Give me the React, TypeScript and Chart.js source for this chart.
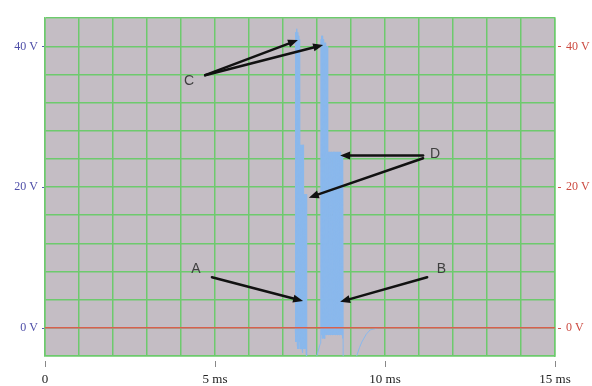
import { useEffect, useRef } from 'react';
import { Chart, registerables } from 'chart.js';

Chart.register(...registerables);

// ---- data (time in ms, voltage in V) ----
const timeMs = [
  0, 7.3, 7.36,
  7.37, 7.38, 7.39, 7.4, 7.41, 7.42, 7.43, 7.44, 7.45, 7.46, 7.47, 7.48, 7.49, 7.5,
  7.51, 7.52, 7.53, 7.54, 7.55, 7.56, 7.57, 7.58, 7.59, 7.6,
  7.61, 7.62, 7.63, 7.64, 7.65, 7.66, 7.67, 7.68, 7.69, 7.7,
  7.75, 7.9, 8.0, 8.05, 8.1, 8.11,
  8.12, 8.13, 8.14, 8.15, 8.16, 8.17, 8.18, 8.19, 8.2, 8.21, 8.22, 8.23, 8.24, 8.25, 8.26, 8.27, 8.28, 8.29, 8.3, 8.31,
  8.32, 8.33, 8.34, 8.35, 8.36, 8.37, 8.38, 8.39, 8.4, 8.41, 8.42, 8.43, 8.44, 8.45, 8.46, 8.47, 8.48, 8.49, 8.5, 8.51,
  8.52, 8.53, 8.54, 8.55, 8.56, 8.57, 8.58, 8.59, 8.6, 8.61, 8.62, 8.63, 8.64, 8.65, 8.66, 8.67, 8.68, 8.69, 8.7, 8.71,
  8.72, 8.73, 8.74, 8.75, 8.76, 8.77,
  9.1, 9.18, 9.25, 9.32, 9.45, 9.56, 9.8, 15,
];
const channelVolts = [
  0, 0, 0,
  42, -2, 42, -2, 42.5, -2.5, 42, -3, 41.5, -3, 41, -2, 41, -3,
  26, -3, 26, -3, 26, -3, 26, -3.5, 26, -3,
  19, -3, 19, -3, 19, -3, 19, -3.5, 19, -4.5,
  -5, -5, -3.9, -3, -2.2, -1,
  41, -1, 41.5, -1.5, 41.5, -1, 41, -1.5, 41, -1, 40.5, -1.5, 40.5, -1, 40, -1, 40, -1, 40, -1,
  25, -1, 25, -1, 25, -1, 25, -1, 25, -1, 25, -1, 25, -1, 25, -1, 25, -1, 25, -1,
  25, -1, 25, -1, 25, -1, 25, -1, 25, -1, 25, -1, 25, -1, 25, -1, 25, -1, 25, -1,
  24.5, -1, 24.5, -1.5, 24.5, -5,
  -5, -3.8, -2.8, -2, -0.9, -0.3, 0, 0,
];
const zeroTime = [0, 15];
const zeroVolts = [0, 0];

const xTickValues = [0, 5, 10, 15];
const xTickLabels = ['0', '5 ms', '10 ms', '15 ms'];
const yTickValues = [0, 20, 40];
const yTickLabels = ['0 V', '20 V', '40 V'];

// callouts (in data units: ms, V)
const calloutLetters = ['A', 'B', 'C', 'D'];
const calloutLetterT = [4.44, 11.66, 4.24, 11.47];
const calloutLetterV = [8.3, 8.3, 35.1, 24.7];
const arrowFromT = [4.91, 11.24, 4.71, 4.71, 11.12, 11.12];
const arrowFromV = [7.2, 7.2, 35.9, 35.9, 24.5, 24.1];
const arrowToT = [7.59, 8.68, 7.44, 8.18, 8.68, 7.76];
const arrowToV = [3.8, 3.7, 40.9, 40.2, 24.5, 18.5];

const tracePoints = timeMs.map((t, i) => ({ x: t, y: channelVolts[i] }));
const zeroPoints = zeroTime.map((t, i) => ({ x: t, y: zeroVolts[i] }));

const gridGreen = '#6dca6d';

const scopePlugin = {
  id: 'scopeDecor',
  beforeDraw(chart: any) {
    const { ctx, chartArea } = chart;
    ctx.save();
    ctx.fillStyle = '#c4bdc4';
    ctx.fillRect(chartArea.left, chartArea.top, chartArea.right - chartArea.left, chartArea.bottom - chartArea.top);
    ctx.restore();
  },
  afterDraw(chart: any) {
    const { ctx, chartArea, scales } = chart;
    const xs = scales.x;
    const ys = scales.y;
    ctx.save();
    // x tick marks (detached below plot)
    ctx.strokeStyle = '#888';
    ctx.lineWidth = 1;
    xTickValues.forEach((v) => {
      const px = Math.round(xs.getPixelForValue(v)) + 0.5;
      ctx.beginPath();
      ctx.moveTo(px, chartArea.bottom + 5);
      ctx.lineTo(px, chartArea.bottom + 11);
      ctx.stroke();
    });
    // y tick marks
    yTickValues.forEach((v) => {
      const py = Math.round(ys.getPixelForValue(v)) + 0.5;
      ctx.strokeStyle = '#5a5ab0';
      ctx.beginPath();
      ctx.moveTo(chartArea.left - 3, py);
      ctx.lineTo(chartArea.left - 1, py);
      ctx.stroke();
      ctx.strokeStyle = '#d05050';
      ctx.beginPath();
      ctx.moveTo(chartArea.right + 3, py);
      ctx.lineTo(chartArea.right + 6, py);
      ctx.stroke();
    });
    // arrows
    ctx.strokeStyle = '#111';
    ctx.fillStyle = '#111';
    ctx.lineWidth = 2.5;
    ctx.lineCap = 'round';
    arrowFromT.forEach((t0, i) => {
      const x0 = xs.getPixelForValue(t0);
      const y0 = ys.getPixelForValue(arrowFromV[i]);
      const x1 = xs.getPixelForValue(arrowToT[i]);
      const y1 = ys.getPixelForValue(arrowToV[i]);
      const ang = Math.atan2(y1 - y0, x1 - x0);
      const headLen = 10;
      const headW = 4;
      const bx = x1 - headLen * Math.cos(ang);
      const by = y1 - headLen * Math.sin(ang);
      ctx.beginPath();
      ctx.moveTo(x0, y0);
      ctx.lineTo(bx, by);
      ctx.stroke();
      ctx.beginPath();
      ctx.moveTo(x1, y1);
      ctx.lineTo(bx + headW * Math.sin(ang), by - headW * Math.cos(ang));
      ctx.lineTo(bx - headW * Math.sin(ang), by + headW * Math.cos(ang));
      ctx.closePath();
      ctx.fill();
    });
    // letters
    ctx.fillStyle = '#404040';
    ctx.font = '14px "Liberation Sans", Arial, sans-serif';
    ctx.textAlign = 'center';
    ctx.textBaseline = 'middle';
    calloutLetters.forEach((s, i) => {
      ctx.fillText(s, xs.getPixelForValue(calloutLetterT[i]), ys.getPixelForValue(calloutLetterV[i]));
    });
    ctx.restore();
  },
};

export default function App() {
  const ref = useRef<HTMLCanvasElement | null>(null);
  useEffect(() => {
    if (!ref.current) return;
    const chart = new Chart(ref.current, {
      type: 'line',
      data: {
        datasets: [
          {
            data: tracePoints,
            borderColor: '#8ab8ec',
            borderWidth: 1,
            pointRadius: 0,
            tension: 0,
            order: 2,
            xAxisID: 'x',
            yAxisID: 'y',
          },
          {
            data: zeroPoints,
            borderColor: '#d8604c',
            borderWidth: 1.5,
            pointRadius: 0,
            order: 1,
            xAxisID: 'x',
            yAxisID: 'y',
          },
        ],
      },
      options: {
        responsive: false,
        animation: false,
        events: [],
        layout: { padding: { top: 14, left: 0, right: 0, bottom: 0 } },
        plugins: { legend: { display: false }, tooltip: { enabled: false } },
        scales: {
          x: {
            type: 'linear',
            min: 0,
            max: 15,
            afterFit: (s: any) => { s.height = 30; },
            grid: { color: gridGreen, lineWidth: 1.5, drawTicks: false },
            border: { color: gridGreen, width: 1.5 },
            ticks: {
              stepSize: 1,
              autoSkip: false,
              maxRotation: 0,
              padding: 16,
              color: '#222',
              font: { family: '"Liberation Serif", serif', size: 13 },
              callback: (v: any) => {
                const idx = xTickValues.indexOf(Number(v));
                return idx >= 0 ? xTickLabels[idx] : '';
              },
            },
          },
          y: {
            type: 'linear',
            position: 'left',
            min: -4,
            max: 44,
            afterFit: (s: any) => { s.width = 45; },
            grid: { color: gridGreen, lineWidth: 1.5, drawTicks: false },
            border: { color: gridGreen, width: 1.5 },
            ticks: {
              stepSize: 4,
              autoSkip: false,
              padding: 7,
              color: '#4e4ea8',
              font: { family: '"Liberation Serif", serif', size: 12 },
              callback: (v: any) => {
                const idx = yTickValues.indexOf(Number(v));
                return idx >= 0 ? yTickLabels[idx] : '';
              },
            },
          },
          y2: {
            type: 'linear',
            position: 'right',
            min: -4,
            max: 44,
            afterFit: (s: any) => { s.width = 37; },
            grid: { display: false, drawTicks: false },
            border: { color: gridGreen, width: 1.5 },
            ticks: {
              stepSize: 4,
              autoSkip: false,
              padding: 11,
              color: '#cc4a40',
              font: { family: '"Liberation Serif", serif', size: 12 },
              callback: (v: any) => {
                const idx = yTickValues.indexOf(Number(v));
                return idx >= 0 ? yTickLabels[idx] : '';
              },
            },
          },
        },
      },
      plugins: [scopePlugin],
    } as any);
    return () => chart.destroy();
  }, []);
  return (
    <div style={{ position: 'fixed', left: 0, top: 0, width: 592, height: 386, background: '#fff' }}>
      <canvas ref={ref} width={592} height={386} style={{ display: 'block' }} />
    </div>
  );
}
